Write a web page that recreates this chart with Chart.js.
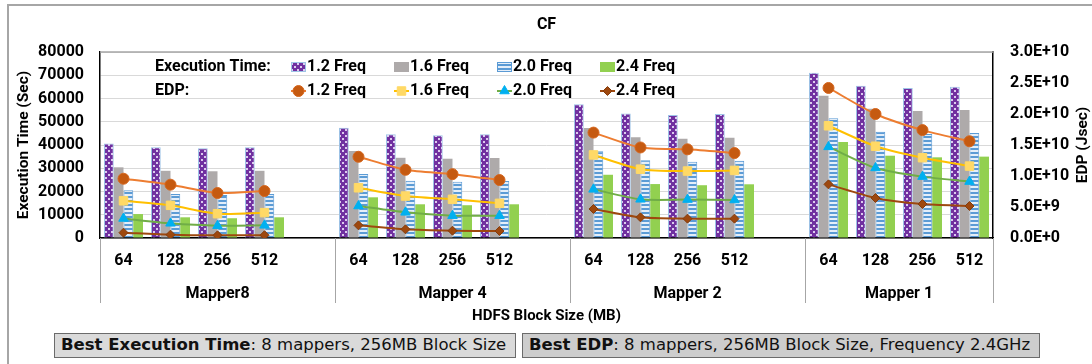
<!DOCTYPE html>
<html>
<head>
<meta charset="utf-8">
<script src="https://cdn.jsdelivr.net/npm/chart.js@4.4.1/dist/chart.umd.min.js"></script>
<style>
  html, body { margin: 0; padding: 0; background: #fff; }
  #wrap { position: relative; width: 1092px; height: 364px; overflow: hidden; }
  #frame { position: absolute; left: 7px; top: 4px; width: 1200px; height: 500px;
           border-left: 2px solid #a6a6a6; border-top: 2px solid #a6a6a6; }
  #cf { position: absolute; left: 0; top: 0; }
  .note { position: absolute; top: 333px; height: 25px; box-sizing: border-box;
          border: 1.5px solid #6b6b6b; font-family: "DejaVu Sans", sans-serif;
          font-size: 16.5px; line-height: 22px; padding-left: 6px; white-space: nowrap; color: #111; }
  .note b { font-weight: bold; }
</style>
</head>
<body>
<div id="wrap">
  <div id="frame"></div>
  <canvas id="cf" width="1092" height="364"></canvas>
  <div class="note" style="left:54px;width:462px;background:#dadada;"><b>Best Execution Time</b>: 8 mappers, 256MB Block Size</div>
  <div class="note" style="left:522px;width:518px;background:#cdcdcd;"><b>Best EDP</b>: 8 mappers, 256MB Block Size, Frequency 2.4GHz</div>
</div>
<script>
// HDFS block sizes (MB) and mapper groups on the category axis
const blockSizes = ['64', '128', '256', '512'];
const mapperGroups = ['Mapper8', 'Mapper 4', 'Mapper 2', 'Mapper 1'];
const freqNames = ['1.2 Freq', '1.6 Freq', '2.0 Freq', '2.4 Freq'];

// Execution time (sec), 4 block sizes per mapper group
const time12 = [40600, 39000, 38600, 39000, 47400, 44600, 44200, 44600, 57500, 53500, 52900, 53300, 71100, 65500, 64500, 65100];
const time16 = [30400, 28900, 28700, 28900, 37400, 34500, 34100, 34400, 47300, 43300, 42700, 43100, 61200, 55600, 54600, 55100];
const time20 = [20500, 18900, 18500, 18900, 27500, 24600, 24200, 24500, 37300, 33400, 32800, 33200, 51500, 45700, 44700, 45200];
const time24 = [10300, 8900, 8500, 8900, 17500, 14500, 14100, 14500, 27200, 23200, 22700, 23100, 41300, 35400, 34700, 35000];

// Energy-delay product (J*sec)
const edp12 = [9.56e9, 8.6e9, 7.26e9, 7.58e9, 13.1e9, 11.0e9, 10.3e9, 9.35e9, 17.0e9, 14.6e9, 14.3e9, 13.7e9, 24.2e9, 20.0e9, 17.4e9, 15.6e9];
const edp16 = [6.0e9, 5.27e9, 3.92e9, 4.09e9, 8.1e9, 6.77e9, 6.24e9, 5.59e9, 13.4e9, 11.1e9, 10.8e9, 10.9e9, 18.1e9, 14.8e9, 12.95e9, 11.6e9];
const edp20 = [3.15e9, 2.37e9, 1.98e9, 2.04e9, 5.16e9, 4.14e9, 3.6e9, 3.6e9, 7.85e9, 6.24e9, 6.2e9, 6.13e9, 14.7e9, 11.3e9, 9.9e9, 9.1e9];
const edp24 = [0.86e9, 0.54e9, 0.43e9, 0.45e9, 2.04e9, 1.4e9, 1.18e9, 1.13e9, 4.68e9, 3.33e9, 3.12e9, 3.12e9, 8.65e9, 6.45e9, 5.48e9, 5.16e9];

// Axis ticks
const timeMax = 80000, timeStep = 10000;
const edpMax = 3e10, edpStep = 5e9;

const FONT = 'Roboto';

// One empty slot separates mapper groups on the category axis
const labels = [];
mapperGroups.forEach((g, gi) => {
  blockSizes.forEach(b => labels.push(b));
  if (gi < mapperGroups.length - 1) labels.push('');
});
function withGaps(values) {
  const out = [];
  for (let gi = 0; gi < mapperGroups.length; gi++) {
    for (let bi = 0; bi < blockSizes.length; bi++) out.push(values[gi * blockSizes.length + bi]);
    if (gi < mapperGroups.length - 1) out.push(null);
  }
  return out;
}

// Fill patterns
function makePattern(size, paint) {
  const c = document.createElement('canvas');
  c.width = size; c.height = size;
  const g = c.getContext('2d');
  paint(g);
  return g.createPattern(c, 'repeat');
}
const ctx = document.getElementById('cf').getContext('2d');
const purpleDots = makePattern(6, g => {
  g.fillStyle = '#7030a0'; g.fillRect(0, 0, 6, 6);
  g.fillStyle = '#dccbee'; g.fillRect(0, 0, 2, 2); g.fillRect(3, 3, 2, 2);
});
const blueStripes = makePattern(4, g => {
  g.fillStyle = '#e4eef9'; g.fillRect(0, 0, 4, 4);
  g.fillStyle = '#5b9bd5'; g.fillRect(0, 0, 4, 2);
});

const barStyles = [
  { fill: purpleDots, border: '#9dc3e6', bw: 1 },
  { fill: '#aeaaaa', border: '#aeaaaa', bw: 0 },
  { fill: blueStripes, border: '#5b9bd5', bw: 1 },
  { fill: '#92d050', border: '#92d050', bw: 0 }
];
const lineStyles = [
  { line: '#ed7d31', fill: '#c55a11', border: '#d5651c', style: 'circle', r: 5.5 },
  { line: '#ffc000', fill: '#ffd966', border: '#ffd966', style: 'rect', r: 6 },
  { line: '#70ad47', fill: '#00b0f0', border: '#00b0f0', style: 'triangle', r: 5.5 },
  { line: '#9e480e', fill: '#9e480e', border: '#843c0c', style: 'rectRot', r: 4.5 }
];
const timeSeries = [time12, time16, time20, time24];
const edpSeries = [edp12, edp16, edp20, edp24];

const datasets = [];
timeSeries.forEach((vals, i) => {
  datasets.push({
    type: 'bar', label: 'Execution Time ' + freqNames[i], data: withGaps(vals), yAxisID: 'y',
    backgroundColor: barStyles[i].fill, borderColor: barStyles[i].border, borderWidth: barStyles[i].bw,
    categoryPercentage: 0.83, barPercentage: 1.0, order: 10
  });
});
edpSeries.forEach((vals, i) => {
  const s = lineStyles[i];
  datasets.push({
    type: 'line', label: 'EDP ' + freqNames[i], data: withGaps(vals), yAxisID: 'y1',
    borderColor: s.line, borderWidth: 2, tension: 0.25, spanGaps: false,
    pointStyle: s.style, pointRadius: s.r, pointBackgroundColor: s.fill,
    pointBorderColor: s.border, pointBorderWidth: 1, order: 0
  });
});

function sci(v) {
  if (v === 0) return '0.0E+0';
  const e = Math.floor(Math.log10(v) + 1e-9);
  return (v / Math.pow(10, e)).toFixed(1) + 'E+' + e;
}

const boldFont = size => ({ family: FONT, size: size, weight: 'bold' });
const cssFont = size => 'bold ' + size + 'px ' + FONT;

// Title, axis titles, legend, group labels and separators
const decorations = {
  id: 'decorations',
  afterDraw(chart) {
    const c = chart.ctx, a = chart.chartArea, x = chart.scales.x;
    c.save();
    c.fillStyle = '#000';
    c.textBaseline = 'middle';

    c.font = cssFont(16);
    c.textAlign = 'center';
    c.fillText('CF', (a.left + a.right) / 2, 25);

    c.font = cssFont(15);
    c.fillText('HDFS Block Size (MB)', (a.left + a.right) / 2, 316);

    c.font = cssFont(15.5);
    c.save();
    c.translate(24, (a.top + a.bottom) / 2);
    c.rotate(-Math.PI / 2);
    c.fillText('Execution Time (Sec)', 0, 0);
    c.restore();
    c.save();
    c.translate(1083, (a.top + a.bottom) / 2);
    c.rotate(-Math.PI / 2);
    c.fillText('EDP (Jsec)', 0, 0);
    c.restore();

    // top edge of the plot area
    c.strokeStyle = '#a6a6a6'; c.lineWidth = 1.5;
    c.beginPath(); c.moveTo(a.left, a.top); c.lineTo(a.right, a.top); c.stroke();

    // group separators and group names
    const w = x.getPixelForValue(1) - x.getPixelForValue(0);
    const bounds = [];
    mapperGroups.forEach((g, gi) => bounds.push(x.getPixelForValue(gi * 5) - w / 2));
    bounds.push(a.right);
    c.strokeStyle = '#a6a6a6'; c.lineWidth = 1;
    bounds.forEach(px => {
      c.beginPath(); c.moveTo(Math.round(px) + 0.5, a.bottom); c.lineTo(Math.round(px) + 0.5, 303); c.stroke();
    });
    c.font = cssFont(16);
    mapperGroups.forEach((g, gi) => c.fillText(g, (bounds[gi] + bounds[gi + 1]) / 2, 294));

    // legend
    c.textAlign = 'left';
    c.font = cssFont(16);
    c.fillText('Execution Time:', 155, 67);
    c.fillText('EDP:', 155, 91);
    const itemX = [291, 394, 497, 600];
    freqNames.forEach((name, i) => {
      const b = barStyles[i];
      c.fillStyle = b.fill;
      c.fillRect(itemX[i], 62, 15, 10);
      if (b.bw) { c.strokeStyle = b.border; c.lineWidth = 1; c.strokeRect(itemX[i] + 0.5, 62.5, 14, 9); }
      c.fillStyle = '#000';
      c.fillText(name, itemX[i] + 16, 67);

      const s = lineStyles[i];
      c.strokeStyle = s.line; c.lineWidth = 2;
      c.beginPath(); c.moveTo(itemX[i], 91); c.lineTo(itemX[i] + 15, 91); c.stroke();
      c.fillStyle = s.fill; c.strokeStyle = s.border; c.lineWidth = 1;
      Chart.helpers.drawPoint(c, { pointStyle: s.style, radius: s.r, rotation: 0, borderWidth: 1 }, itemX[i] + 7.5, 91);
      c.fillStyle = '#000';
      c.fillText(name, itemX[i] + 16, 91);
    });
    c.restore();
  }
};

function build() {
  new Chart(ctx, {
    type: 'bar',
    data: { labels: labels, datasets: datasets },
    plugins: [decorations],
    options: {
      responsive: false,
      animation: false,
      layout: { padding: { top: 52, left: 0, right: 0, bottom: 0 } },
      plugins: { legend: { display: false }, tooltip: { enabled: false }, title: { display: false } },
      scales: {
        x: {
          grid: { display: false, drawTicks: false },
          border: { color: '#000', width: 1.5 },
          ticks: { font: boldFont(16), color: '#000', padding: 13, autoSkip: false, maxRotation: 0 },
          afterFit(s) { s.height = 126; }
        },
        y: {
          position: 'left', min: 0, max: timeMax,
          ticks: { stepSize: timeStep, font: boldFont(16), color: '#000', padding: 16, callback: v => String(v) },
          grid: { color: '#d9d9d9', drawTicks: false },
          border: { color: '#000', width: 1.5 },
          afterFit(s) { s.width = 100; }
        },
        y1: {
          position: 'right', min: 0, max: edpMax,
          ticks: { stepSize: edpStep, font: boldFont(16), color: '#000', padding: 17, callback: v => sci(v) },
          grid: { display: false, drawTicks: false },
          border: { color: '#000', width: 1.5 },
          afterFit(s) { s.width = 99; }
        }
      }
    }
  });
}

const fontLoads = [document.fonts.load('bold 16px Roboto'), document.fonts.load('bold 16px "DejaVu Sans"'), document.fonts.load('16px "DejaVu Sans"')];
Promise.all(fontLoads).then(build, build);
</script>
</body>
</html>
